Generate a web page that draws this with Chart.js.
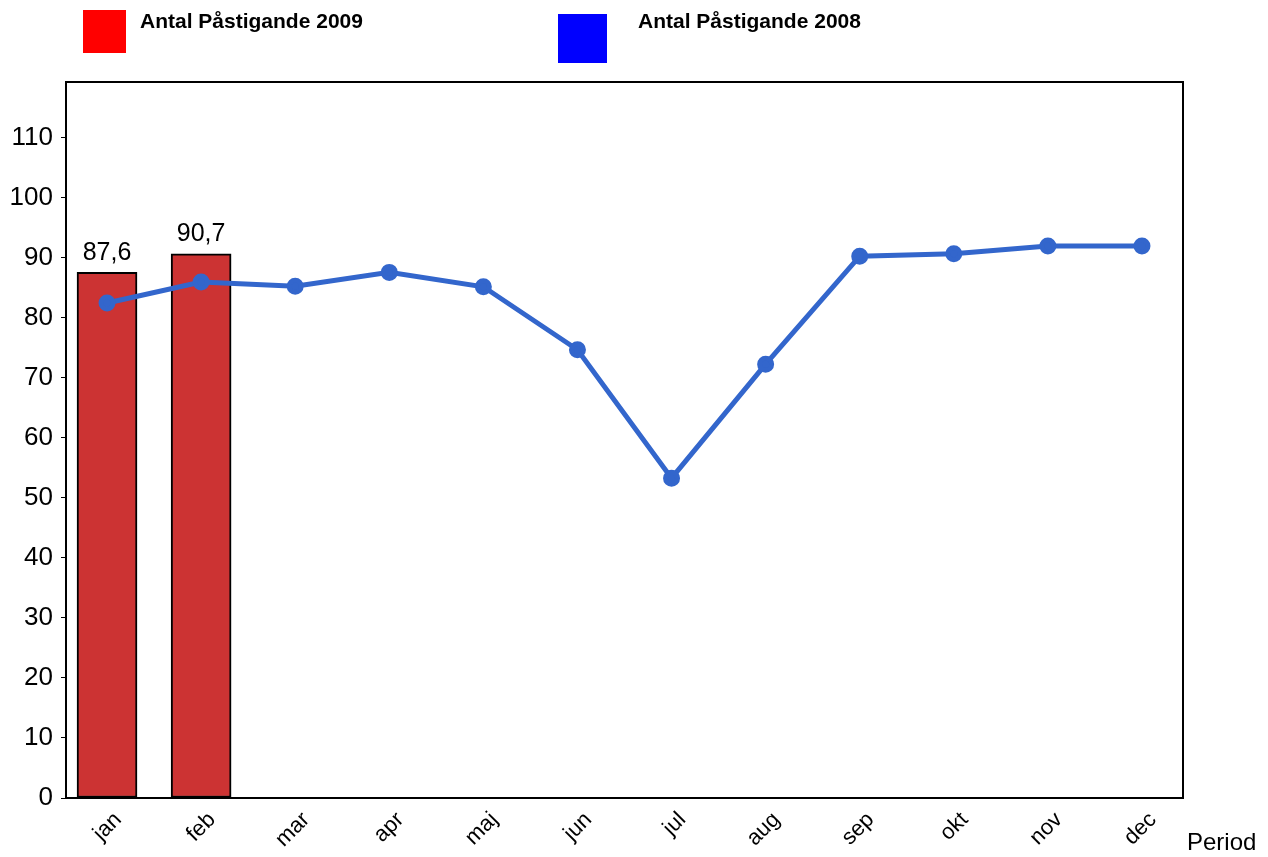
<!DOCTYPE html>
<html>
<head>
<meta charset="utf-8">
<script src="https://cdn.jsdelivr.net/npm/chart.js@4"></script>
<style>
  html, body { margin: 0; padding: 0; background: #fff; }
  #wrap { position: relative; width: 1268px; height: 857px; font-family: "Liberation Sans", Arial, sans-serif; }
  .key { position: absolute; }
  .lbl { position: absolute; font-weight: bold; font-size: 21px; color: #000; white-space: nowrap; }
  #period { position: absolute; left: 1187px; top: 828px; font-size: 24px; color: #000; }
</style>
</head>
<body>
<div id="wrap">
  <canvas id="chart" width="1268" height="857"></canvas>
  <div class="key" style="left:83px;top:10px;width:43px;height:43px;background:#ff0000"></div>
  <div class="lbl" style="left:140px;top:9px">Antal Påstigande 2009</div>
  <div class="key" style="left:558px;top:14px;width:49px;height:49px;background:#0000ff"></div>
  <div class="lbl" style="left:638px;top:9px">Antal Påstigande 2008</div>
  <div id="period">Period</div>
</div>
<script>
const months = ["jan", "feb", "mar", "apr", "maj", "jun", "jul", "aug", "sep", "okt", "nov", "dec"];
const antal2009 = [87.6, 90.7];
const antal2008 = [82.5, 86.0, 85.3, 87.6, 85.2, 74.7, 53.3, 72.3, 90.3, 90.7, 92.0, 92.0];
const yTicks = [0, 10, 20, 30, 40, 50, 60, 70, 80, 90, 100, 110];

const font = "'Liberation Sans', Arial, sans-serif";

// frame round the plot and the value labels on the bars
const extras = {
  id: "extras",
  afterDatasetsDraw(chart) {
    const ctx = chart.ctx;
    const a = chart.chartArea;
    ctx.save();
    ctx.strokeStyle = "#000";
    ctx.lineWidth = 2;
    ctx.strokeRect(a.left, a.top, a.right - a.left, a.bottom - a.top);
    const meta = chart.getDatasetMeta(1);
    ctx.fillStyle = "#000";
    ctx.font = "25px " + font;
    ctx.textAlign = "center";
    ctx.textBaseline = "bottom";
    meta.data.forEach((bar, i) => {
      ctx.fillText(antal2009[i].toFixed(1).replace(".", ","), bar.x, bar.y - 7);
    });
    ctx.restore();
  }
};

new Chart(document.getElementById("chart"), {
  type: "bar",
  data: {
    datasets: [
      {
        type: "line",
        label: "Antal Påstigande 2008",
        data: antal2008.map((v, i) => ({ x: i, y: v })),
        borderColor: "#3366cc",
        backgroundColor: "#3366cc",
        borderWidth: 5,
        pointRadius: 6,
        pointHoverRadius: 6,
        tension: 0,
        order: 0
      },
      {
        type: "bar",
        label: "Antal Påstigande 2009",
        data: antal2009.map((v, i) => ({ x: i, y: v })),
        backgroundColor: "#cc3333",
        borderColor: "#000",
        borderWidth: 2,
        borderSkipped: false,
        barThickness: 60,
        order: 1
      }
    ]
  },
  options: {
    responsive: false,
    animation: false,
    layout: { padding: { top: 82, right: 85, left: 0, bottom: 0 } },
    plugins: { legend: { display: false }, tooltip: { enabled: false } },
    scales: {
      x: {
        type: "linear",
        offset: false,
        min: -0.436,
        max: 11.436,
        afterBuildTicks: (s) => { s.ticks = months.map((m, i) => ({ value: i })); },
        afterFit: (s) => { s.height = 59; },
        grid: { display: false },
        border: { display: false },
        ticks: {
          autoSkip: false,
          minRotation: 45,
          maxRotation: 45,
          padding: 1,
          labelOffset: 11,
          color: "#000",
          font: { family: font, size: 22 },
          callback: (v) => months[v]
        }
      },
      y: {
        min: 0,
        max: 119.33,
        afterBuildTicks: (s) => { s.ticks = yTicks.map((v) => ({ value: v })); },
        afterFit: (s) => { s.width = 66; },
        grid: { drawOnChartArea: false, drawTicks: true, tickLength: 5, color: "#000", lineWidth: 1 },
        border: { display: false },
        ticks: {
          padding: 8,
          color: "#000",
          font: { family: font, size: 26 }
        }
      }
    }
  },
  plugins: [extras]
});
</script>
</body>
</html>
